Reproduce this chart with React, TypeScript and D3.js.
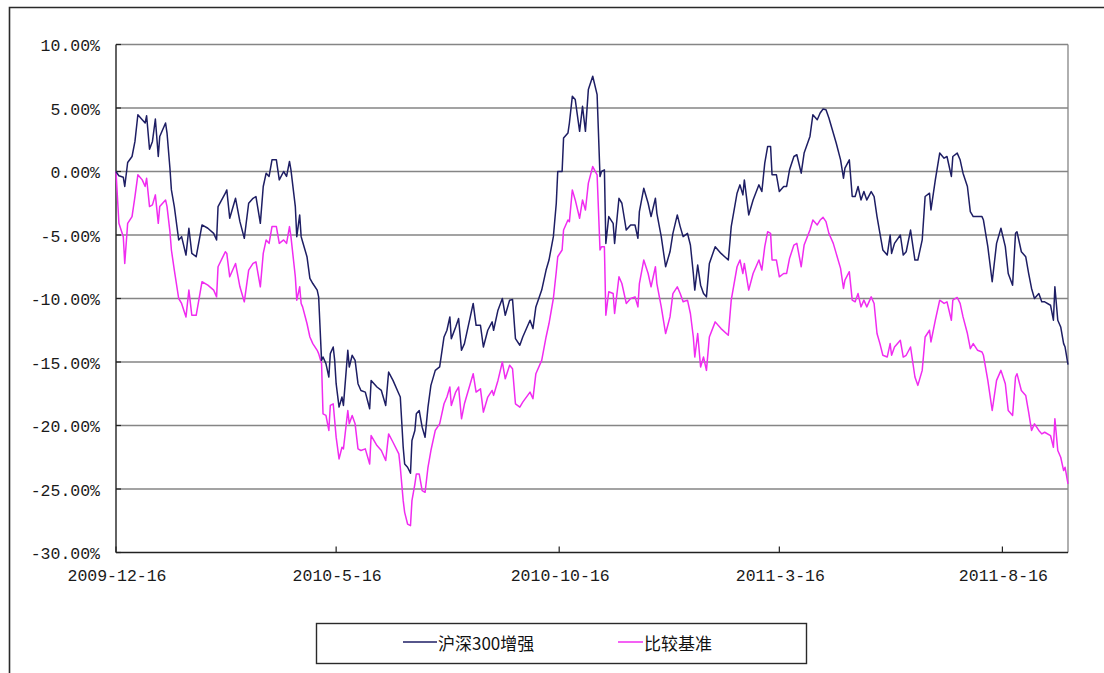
import React, { useEffect, useRef } from 'react';
import * as d3 from 'd3';

// calendar days after 2009-12-16 for each sample point
const dayOffsets = [
  0, 2, 5, 6, 8, 11, 13, 15, 18, 20,
  21, 23, 25, 27, 29, 30, 34, 35, 37, 38,
  40, 43, 45, 48, 50, 52, 55, 59, 63, 67,
  69, 70, 75, 76, 78, 82, 85, 88, 91, 94,
  96, 99, 101, 103, 105, 107, 110, 112, 115, 117,
  119, 120, 123, 124, 126, 127, 128, 131, 133, 135,
  138, 139, 141, 142, 144, 146, 147, 149, 150, 151,
  153, 155, 156, 159, 160, 162, 164, 166, 168, 171,
  174, 175, 179, 182, 185, 187, 190, 194, 195, 197,
  198, 200, 202, 203, 205, 206, 208, 210, 212, 214,
  216, 219, 222, 225, 227, 229, 230, 233, 235, 237,
  239, 243, 245, 247, 250, 252, 255, 258, 259, 262,
  265, 267, 270, 272, 274, 277, 279, 284, 286, 288,
  292, 295, 297, 300, 302, 303, 306, 307, 310, 311,
  313, 315, 318, 320, 322, 324, 327, 330, 332, 333,
  335, 336, 338, 341, 342, 345, 347, 350, 353, 356,
  358, 359, 362, 365, 367, 370, 371, 374, 377, 380,
  382, 385, 387, 389, 392, 394, 396, 397, 399, 401,
  403, 405, 407, 411, 415, 420, 422, 426, 428, 430,
  431, 434, 437, 441, 443, 445, 447, 449, 450, 453,
  455, 458, 460, 462, 465, 467, 470, 472, 476, 478,
  481, 483, 485, 487, 489, 491, 492, 494, 497, 499,
  500, 503, 505, 507, 509, 511, 513, 515, 518, 520,
  522, 524, 526, 529, 531, 532, 534, 538, 540, 542,
  545, 548, 550, 553, 555, 558, 559, 562, 565, 568,
  570, 573, 574, 577, 579, 581, 584, 586, 588, 591,
  594, 595, 598, 601, 604, 607, 610, 612, 615, 617,
  618, 621, 624, 626, 628, 630, 633, 635, 637, 641,
  643, 644, 646, 648, 650, 651, 653,
];

// 沪深300增强 cumulative return, %
const fundValues = [
  0, -0.34, -0.45, -1.18, 0.71, 1.18, 2.37, 4.47, 4.08, 3.82,
  4.39, 1.76, 2.37, 4.13, 1.18, 2.76, 3.82, 3.03, 0.26, -1.45,
  -2.76, -5.39, -5.13, -6.58, -4.47, -6.45, -6.71, -4.21, -4.47, -4.87,
  -5.39, -2.76, -1.71, -1.45, -3.68, -2.11, -3.95, -5.26, -2.5, -2.11,
  -1.97, -4.08, -1.18, -0.13, -0.39, 0.92, 0.92, -0.66, 0, -0.39,
  0.79, 0.13, -2.76, -5.13, -3.42, -5.13, -5.53, -6.71, -8.42, -8.82,
  -9.34, -9.87, -14.87, -14.61, -15.13, -16.18, -14.34, -13.82, -14.87, -16.71,
  -18.55, -17.76, -18.42, -14.08, -15.39, -14.47, -14.87, -16.71, -17.24, -17.37,
  -18.68, -16.45, -16.97, -17.24, -18.42, -15.79, -16.45, -17.5, -17.76, -21.71,
  -23.03, -23.29, -23.76, -21.18, -20.39, -19.08, -18.82, -20.13, -20.92, -18.55,
  -16.84, -15.66, -15.39, -13.03, -12.5, -11.45, -13.16, -12.24, -11.58, -14.08,
  -13.55, -11.45, -10.39, -12.11, -12.11, -13.82, -12.5, -11.84, -12.5, -10.92,
  -10.0, -11.32, -10.13, -10.08, -13.16, -13.68, -13.03, -11.71, -12.37, -10.66,
  -9.34, -7.76, -6.97, -5.13, -2.5, 0, 0, 2.63, 3.03, 3.82,
  5.92, 5.66, 3.16, 5.13, 3.16, 6.45, 7.5, 6.05, -0.39, 0,
  0.13, -5.66, -3.55, -4.08, -5.66, -2.11, -2.5, -4.61, -4.21, -4.21,
  -5.26, -3.16, -1.32, -2.5, -3.55, -2.11, -3.29, -5.13, -7.5, -6.32,
  -4.87, -3.42, -4.34, -5.13, -4.87, -5.79, -8.03, -9.34, -7.37, -8.95,
  -9.61, -9.87, -7.24, -5.92, -6.45, -6.97, -4.34, -1.71, -1.05, -1.84,
  -0.66, -3.42, -2.24, -1.05, -1.58, 0.66, 1.97, 1.97, -0.26, -0.26,
  -1.58, -1.18, -1.18, 0.13, 1.18, 1.32, -0.13, 1.45, 2.76, 4.47,
  4.08, 4.61, 4.92, 4.87, 4.21, 3.42, 3.03, 2.24, 0.92, -0.53,
  0.26, 0.92, -1.97, -1.97, -1.18, -2.24, -1.58, -2.24, -1.58, -1.97,
  -3.55, -4.87, -6.18, -6.58, -5.0, -6.45, -5.66, -5.0, -6.58, -6.32,
  -4.61, -6.97, -6.97, -5.39, -1.97, -1.71, -3.03, -0.66, 1.45, 1.05,
  1.18, -0.39, 1.18, 1.45, 0.92, -0.13, -1.18, -3.16, -3.55, -3.55,
  -3.55, -3.82, -5.92, -8.68, -5.66, -4.47, -5.92, -8.03, -8.95, -4.87,
  -4.74, -6.32, -6.71, -8.03, -9.21, -10.0, -9.61, -10.26, -10.26, -10.53,
  -11.71, -9.08, -11.71, -12.24, -13.55, -13.82, -15.2,
];

// 比较基准 cumulative return, %
const benchValues = [
  0, -4.08, -5.13, -7.24, -4.08, -3.55, -1.97, -0.26, -0.66, -1.18,
  -0.53, -2.76, -2.63, -1.84, -4.08, -2.76, -2.24, -2.76, -4.74, -6.18,
  -7.76, -10.0, -10.39, -11.45, -9.34, -11.32, -11.32, -8.68, -8.95, -9.34,
  -9.87, -7.5, -6.32, -6.45, -8.29, -7.24, -9.08, -10.26, -7.76, -7.24,
  -7.11, -9.08, -6.45, -5.39, -5.66, -4.34, -4.34, -5.66, -5.39, -5.66,
  -4.34, -5.13, -8.29, -10.13, -9.08, -10.39, -10.66, -11.97, -13.03, -13.55,
  -14.08, -14.34, -15.13, -19.08, -19.21, -20.39, -18.42, -18.29, -19.61, -20.92,
  -22.63, -21.71, -21.84, -18.82, -19.87, -19.21, -19.87, -21.84, -21.97, -21.84,
  -23.03, -20.79, -21.58, -21.97, -22.76, -20.66, -21.32, -22.24, -23.29, -25.92,
  -26.84, -27.76, -27.89, -25.92, -24.61, -23.82, -23.82, -25.13, -25.26, -23.29,
  -21.97, -20.39, -19.87, -18.29, -17.76, -16.97, -18.42, -17.37, -16.97, -19.47,
  -18.29, -16.71, -15.92, -17.37, -17.11, -18.95, -17.76, -17.24, -17.63, -16.45,
  -15.0, -16.32, -15.26, -15.53, -18.29, -18.55, -18.16, -17.37, -17.89, -15.92,
  -14.87, -13.03, -11.97, -10.0, -7.89, -6.71, -6.18, -4.61, -3.82, -3.95,
  -1.45, -2.24, -3.68, -2.24, -3.03, -0.92, 0.39, -0.26, -6.18, -5.92,
  -5.92, -11.32, -9.47, -9.61, -11.18, -8.29, -8.82, -10.39, -10.0, -9.87,
  -10.66, -8.82, -6.97, -8.03, -9.08, -7.5, -8.82, -10.66, -12.76, -11.45,
  -9.61, -9.08, -9.61, -10.26, -10.13, -11.18, -13.03, -14.61, -12.76, -15.39,
  -14.61, -15.66, -13.03, -11.84, -12.37, -12.89, -10.13, -7.5, -6.97, -8.03,
  -7.24, -9.34, -8.03, -6.97, -7.76, -5.92, -4.74, -4.87, -6.97, -6.97,
  -8.29, -8.03, -8.03, -6.84, -5.79, -5.66, -7.5, -5.79, -4.61, -3.82,
  -4.21, -3.82, -3.61, -3.95, -4.87, -5.39, -5.66, -6.45, -7.63, -9.21,
  -8.55, -7.89, -10.13, -10.26, -9.61, -10.66, -10.13, -10.66, -9.87, -10.39,
  -12.76, -13.55, -14.47, -14.61, -13.55, -14.47, -13.82, -13.29, -14.61, -14.47,
  -13.82, -16.18, -16.84, -15.66, -13.03, -12.5, -13.42, -11.71, -10.13, -10.39,
  -10.26, -11.71, -10.13, -9.92, -10.39, -11.45, -12.76, -13.95, -13.55, -14.08,
  -14.21, -14.47, -16.45, -18.82, -16.45, -15.66, -16.71, -18.82, -19.21, -16.18,
  -15.92, -17.24, -17.63, -18.95, -20.39, -19.87, -20.39, -20.66, -20.53, -20.79,
  -21.71, -19.47, -21.97, -22.5, -23.55, -23.29, -24.6,
];

const startDate = '2009-12-16';
const endDate = '2011-9-30';
const xTickLabels = ['2009-12-16', '2010-5-16', '2010-10-16', '2011-3-16', '2011-8-16'];
const yTicks = [10, 5, 0, -5, -10, -15, -20, -25, -30];
const seriesNames = ['沪深300增强', '比较基准'];
const seriesColors = ['#1e1e64', '#f02cf0'];

const parseDay = (s: string) => {
  const [y, m, d] = s.split('-').map(Number);
  return new Date(y, m - 1, d);
};

const App: React.FC = () => {
  const svgRef = useRef<SVGSVGElement>(null);
  const width = 1104;
  const height = 673;

  useEffect(() => {
    if (!svgRef.current) return;
    const svg = d3.select(svgRef.current);
    svg.selectAll('*').remove();

    const left = 116, right = 1068, top = 44.5, bottom = 552.5;
    const start = parseDay(startDate);

    const x = d3.scaleTime().domain([start, parseDay(endDate)]).range([left, right]);
    const y = d3.scaleLinear().domain([-30, 10]).range([bottom, top]);

    // outer chart frame (cropped on right/bottom)
    svg.append('path')
      .attr('d', `M9.5,${height} V7.5 H${width}`)
      .attr('fill', 'none')
      .attr('stroke', '#2a2a2a')
      .attr('stroke-width', 1.6);

    // gridlines
    svg.append('g')
      .selectAll('line')
      .data(yTicks.filter(t => t !== -30))
      .join('line')
      .attr('x1', left).attr('x2', right)
      .attr('y1', d => y(d)).attr('y2', d => y(d))
      .attr('stroke', '#858585')
      .attr('stroke-width', 1.3);

    // right border of plot area
    svg.append('line')
      .attr('x1', right).attr('x2', right)
      .attr('y1', top).attr('y2', bottom)
      .attr('stroke', '#858585')
      .attr('stroke-width', 1.3);

    // y axis
    const yAxis = svg.append('g');
    yAxis.append('line')
      .attr('x1', left).attr('x2', left)
      .attr('y1', top).attr('y2', bottom)
      .attr('stroke', '#222').attr('stroke-width', 1.4);
    yAxis.selectAll('line.tick')
      .data(yTicks)
      .join('line')
      .attr('class', 'tick')
      .attr('x1', left).attr('x2', left + 5)
      .attr('y1', d => y(d)).attr('y2', d => y(d))
      .attr('stroke', '#222').attr('stroke-width', 1.2);
    yAxis.selectAll('text')
      .data(yTicks)
      .join('text')
      .attr('x', 100)
      .attr('y', d => y(d) + 2)
      .attr('text-anchor', 'end')
      .attr('dominant-baseline', 'central')
      .style('font-family', '"Liberation Mono", "DejaVu Sans Mono", monospace')
      .style('font-size', '16.5px')
      .style('fill', '#1a1a1a')
      .text(d => `${d.toFixed(2)}%`);

    // x axis
    const xAxis = svg.append('g');
    xAxis.append('line')
      .attr('x1', left).attr('x2', right)
      .attr('y1', bottom).attr('y2', bottom)
      .attr('stroke', '#222').attr('stroke-width', 1.4);
    const xTicks = xTickLabels.map(parseDay);
    xAxis.selectAll('line.tick')
      .data(xTicks)
      .join('line')
      .attr('class', 'tick')
      .attr('x1', d => x(d)).attr('x2', d => x(d))
      .attr('y1', bottom).attr('y2', bottom - 6)
      .attr('stroke', '#222').attr('stroke-width', 1.2);
    xAxis.selectAll('text')
      .data(xTickLabels)
      .join('text')
      .attr('x', d => x(parseDay(d)) + 1)
      .attr('y', 576)
      .attr('text-anchor', 'middle')
      .attr('dominant-baseline', 'central')
      .style('font-family', '"Liberation Mono", "DejaVu Sans Mono", monospace')
      .style('font-size', '16.5px')
      .style('fill', '#1a1a1a')
      .text(d => d);

    // series lines
    const series = [fundValues, benchValues];
    const line = d3.line<number>()
      .x((_, i) => x(d3.timeDay.offset(start, dayOffsets[i])))
      .y(d => y(d));

    // draw benchmark first so the fund line sits on top
    [1, 0].forEach(k => {
      svg.append('path')
        .datum(series[k])
        .attr('fill', 'none')
        .attr('stroke', seriesColors[k])
        .attr('stroke-width', 1.5)
        .attr('stroke-linejoin', 'round')
        .attr('d', line);
    });

    // legend
    const legend = svg.append('g');
    legend.append('rect')
      .attr('x', 316.5).attr('y', 623.5)
      .attr('width', 490).attr('height', 40)
      .attr('fill', '#fff')
      .attr('stroke', '#2a2a2a')
      .attr('stroke-width', 1.4);
    const legendX = [403, 618];
    const legendLen = [34, 25];
    seriesNames.forEach((name, k) => {
      legend.append('line')
        .attr('x1', legendX[k]).attr('x2', legendX[k] + legendLen[k])
        .attr('y1', 642).attr('y2', 642)
        .attr('stroke', seriesColors[k])
        .attr('stroke-width', 1.5);
      legend.append('text')
        .attr('x', legendX[k] + legendLen[k] + 1)
        .attr('y', 642)
        .attr('dominant-baseline', 'central')
        .style('font-family', '"Noto Sans CJK SC", "Noto Sans", sans-serif')
        .style('font-size', '17px')
        .style('fill', '#111')
        .text(name);
    });
  }, []);

  return (
    <div style={{ position: 'absolute', left: 0, top: 0, width, height, background: '#fff' }}>
      <svg ref={svgRef} width={width} height={height} />
    </div>
  );
};

export default App;
